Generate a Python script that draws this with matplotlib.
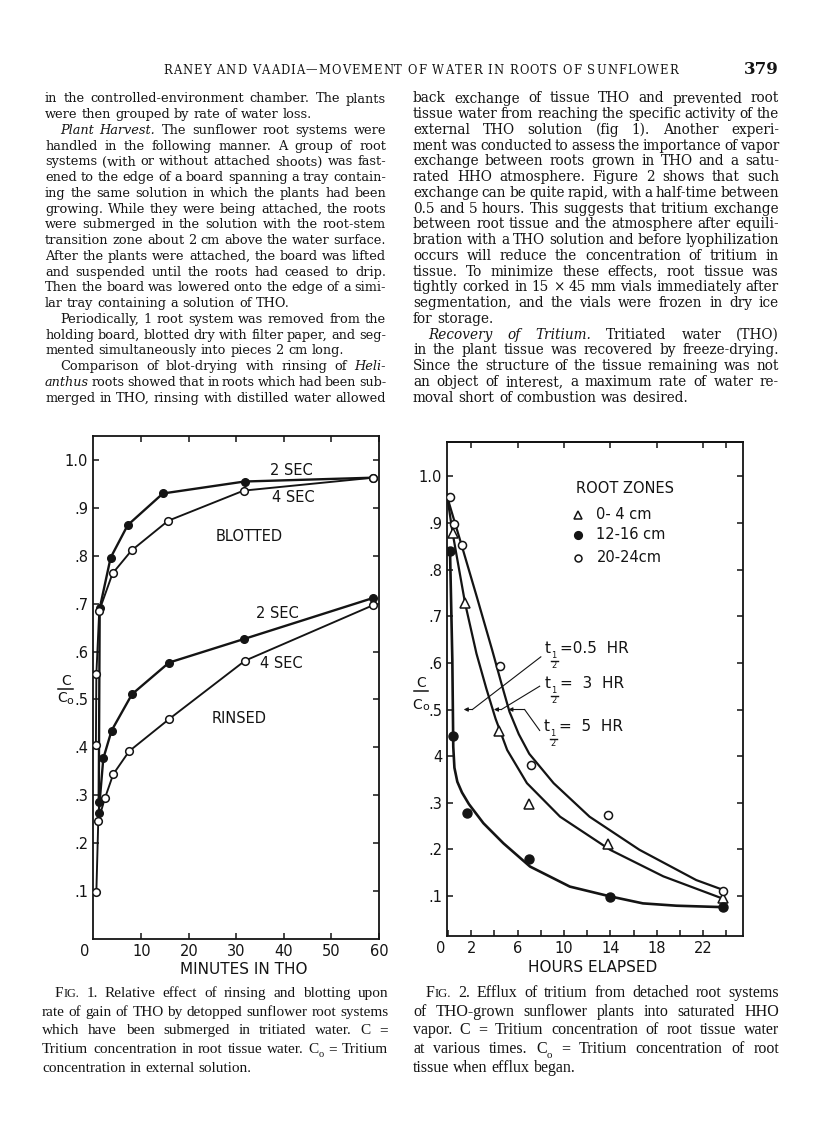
import matplotlib
matplotlib.use('Agg')
import matplotlib.pyplot as plt
from matplotlib.lines import Line2D

W, H = 816, 1121
fig = plt.figure(figsize=(W / 100, H / 100), dpi=100)
fig.patch.set_facecolor('white')
INK = '#141414'
SANS = 'DejaVu Sans'
SERIF = 'DejaVu Serif'
CAPF = 'Liberation Serif'


def fx(x):
    return x / W


def fy(y):
    return 1 - y / H


# ---------------- data: Fig. 1 (minutes in THO vs C/Co) ----------------
blot2_x = [1.0, 1.2, 3.5, 7.1, 14.5, 31.7, 58.8]
blot2_y = [0.287, 0.690, 0.796, 0.864, 0.930, 0.955, 0.963]
blot4_x = [0.4, 0.5, 1.1, 3.9, 7.9, 15.6, 31.5, 58.8]
blot4_y = [0.405, 0.553, 0.685, 0.763, 0.811, 0.873, 0.936, 0.963]
rinse2_x = [1.0, 1.96, 3.7, 8.0, 15.8, 31.5, 58.8]
rinse2_y = [0.264, 0.377, 0.435, 0.511, 0.577, 0.626, 0.712]
rinse4_x = [0.5, 0.9, 2.3, 4.05, 7.4, 15.8, 31.8, 58.8]
rinse4_y = [0.099, 0.247, 0.294, 0.344, 0.392, 0.459, 0.581, 0.697]
fig1_xticks = [10, 20, 30, 40, 50, 60]
fig1_yticks = [0.1, 0.2, 0.3, 0.4, 0.5, 0.6, 0.7, 0.8, 0.9, 1.0]
fig1_ylabels = ['.1', '.2', '.3', '.4', '.5', '.6', '.7', '.8', '.9', '1.0']

# ---------------- data: Fig. 2 (hours elapsed vs C/Co) ----------------
z04_x = [0.4, 1.47, 4.4, 7.0, 13.8, 23.7]
z04_y = [0.878, 0.728, 0.454, 0.297, 0.211, 0.095]
z1216_x = [0.17, 0.46, 1.6, 7.0, 14.0, 23.7]
z1216_y = [0.841, 0.443, 0.277, 0.179, 0.097, 0.077]
z2024_x = [0.15, 0.5, 1.18, 4.5, 7.15, 13.8, 23.7]
z2024_y = [0.955, 0.898, 0.854, 0.594, 0.380, 0.274, 0.111]
# fitted curves
c2024_x = [0.0, 1.2, 2.5, 3.8, 4.6, 5.3, 6.1, 7.0, 9.1, 12.2, 16.5, 21.4, 23.6]
c2024_y = [0.950, 0.850, 0.740, 0.628, 0.556, 0.495, 0.447, 0.405, 0.342, 0.270, 0.199, 0.134, 0.114]
c04_x = [0.0, 0.4, 1.47, 2.45, 3.3, 4.1, 5.1, 6.8, 9.66, 13.97, 18.56, 23.6]
c04_y = [0.945, 0.878, 0.728, 0.620, 0.545, 0.480, 0.413, 0.342, 0.270, 0.199, 0.142, 0.095]
c1216_x = [0.17, 0.37, 0.45, 0.55, 0.8, 1.2, 1.8, 3.05, 4.77, 7.07, 10.5, 13.97, 16.8, 19.7, 23.6]
c1216_y = [0.841, 0.606, 0.420, 0.375, 0.345, 0.322, 0.297, 0.256, 0.213, 0.163, 0.120, 0.099, 0.084, 0.079, 0.076]
fig2_xticks = [0, 2, 6, 10, 14, 18, 22]
fig2_xminor = [4, 8, 12, 16, 20, 24]
fig2_yticks = [0.1, 0.2, 0.3, 0.4, 0.5, 0.6, 0.7, 0.8, 0.9, 1.0]
fig2_ylabels = ['.1', '.2', '.3', '4', '.5', '.6', '.7', '.8', '.9', '1.0']
zone_labels = ['0- 4 cm', '12-16 cm', '20-24cm']

# ---------------- page text ----------------
header = 'RANEY AND VAADIA\u2014MOVEMENT OF WATER IN ROOTS OF SUNFLOWER'
page_no = '379'
left_lines = [
    "in the controlled-environment chamber. The plants",
    "were then grouped by rate of water loss.",
    "*Plant *Harvest. The sunflower root systems were",
    "handled in the following manner. A group of root",
    "systems (with or without attached shoots) was fast-",
    "ened to the edge of a board spanning a tray contain-",
    "ing the same solution in which the plants had been",
    "growing. While they were being attached, the roots",
    "were submerged in the solution with the root-stem",
    "transition zone about 2 cm above the water surface.",
    "After the plants were attached, the board was lifted",
    "and suspended until the roots had ceased to drip.",
    "Then the board was lowered onto the edge of a simi-",
    "lar tray containing a solution of THO.",
    "Periodically, 1 root system was removed from the",
    "holding board, blotted dry with filter paper, and seg-",
    "mented simultaneously into pieces 2 cm long.",
    "Comparison of blot-drying with rinsing of *Heli-",
    "*anthus roots showed that in roots which had been sub-",
    "merged in THO, rinsing with distilled water allowed",
]
right_lines = [
    "back exchange of tissue THO and prevented root",
    "tissue water from reaching the specific activity of the",
    "external THO solution (fig 1). Another experi-",
    "ment was conducted to assess the importance of vapor",
    "exchange between roots grown in THO and a satu-",
    "rated HHO atmosphere. Figure 2 shows that such",
    "exchange can be quite rapid, with a half-time between",
    "0.5 and 5 hours. This suggests that tritium exchange",
    "between root tissue and the atmosphere after equili-",
    "bration with a THO solution and before lyophilization",
    "occurs will reduce the concentration of tritium in",
    "tissue. To minimize these effects, root tissue was",
    "tightly corked in 15 \u00d7 45 mm vials immediately after",
    "segmentation, and the vials were frozen in dry ice",
    "for storage.",
    "*Recovery *of *Tritium. Tritiated water (THO)",
    "in the plant tissue was recovered by freeze-drying.",
    "Since the structure of the tissue remaining was not",
    "an object of interest, a maximum rate of water re-",
    "moval short of combustion was desired.",
]
cap1_lines = [
    "FIG. 1. Relative effect of rinsing and blotting upon",
    "rate of gain of THO by detopped sunflower root systems",
    "which have been submerged in tritiated water. C =",
    "Tritium concentration in root tissue water. C_o = Tritium",
    "concentration in external solution.",
]
cap2_lines = [
    "FIG. 2. Efflux of tritium from detached root systems",
    "of THO-grown sunflower plants into saturated HHO",
    "vapor. C = Tritium concentration of root tissue water",
    "at various times. C_o = Tritium concentration of root",
    "tissue when efflux began.",
]

renderer = fig.canvas.get_renderer()
_wcache = {}


def text_width(s, size, family, style='normal', weight='normal'):
    key = (s, round(size, 3), family, style, weight)
    if key not in _wcache:
        t = fig.text(0, 0, s, fontsize=size, family=family, style=style, weight=weight)
        _wcache[key] = t.get_window_extent(renderer).width
        t.remove()
    return _wcache[key]


def segments(tok):
    if tok == 'FIG.':
        return [('F', 1.0, 0.0, 'normal'), ('IG.', 0.8, 0.0, 'normal')]
    if tok == 'C_o':
        return [('C', 1.0, 0.0, 'normal'), ('o', 0.68, -0.28, 'normal')]
    if tok.startswith('*'):
        return [(tok[1:], 1.0, 0.0, 'italic')]
    return [(tok, 1.0, 0.0, 'normal')]


def tok_width(tok, size, family):
    return sum(text_width(s, size * sc, family, st) for s, sc, dy, st in segments(tok))


def draw_tok(tok, x, base, size, family):
    for s, sc, dy, st in segments(tok):
        fig.text(fx(x), fy(base - dy * size * 100 / 72), s, fontsize=size * sc,
                 family=family, style=st, va='baseline', ha='left', color=INK)
        x += text_width(s, size * sc, family, st)


def space_w(size, family):
    return text_width('a a', size, family) - text_width('aa', size, family)


def fit_size(lines, x0, x1, family, indents, ends, indent_px, s0=10.0, q=0.3):
    sp = space_w(s0, family)
    ks = []
    for i, line in enumerate(lines):
        if i in ends:
            continue
        toks = line.split(' ')
        avail = (x1 - x0) - (indent_px if i in indents else 0)
        nat = sum(tok_width(t, s0, family) for t in toks) + (len(toks) - 1) * sp
        ks.append(avail / nat)
    ks.sort()
    return s0 * ks[int(q * (len(ks) - 1))]


def justify(lines, x0, x1, base0, dy, size, family, indents, ends, indent_px, min_gap=2.4):
    for i, line in enumerate(lines):
        toks = line.split(' ')
        xs = x0 + (indent_px if i in indents else 0)
        s = size
        while True:
            sp = space_w(s, family)
            widths = [tok_width(t, s, family) for t in toks]
            if i in ends or len(toks) == 1:
                gap = sp
                break
            gap = ((x1 - xs) - sum(widths)) / (len(toks) - 1)
            if gap >= min_gap:
                break
            s *= 0.99
        base = base0 + i * dy
        x = xs
        for t, w in zip(toks, widths):
            draw_tok(t, x, base, s, family)
            x += w + gap


def tracked(text, x0, x1, base, size, family, weight='normal'):
    ws = [text_width(c, size, family, weight=weight) for c in text]
    extra = ((x1 - x0) - sum(ws)) / (len(text) - 1)
    x = x0
    for c, w in zip(text, ws):
        fig.text(fx(x), fy(base), c, fontsize=size, family=family, weight=weight,
                 va='baseline', ha='left', color=INK)
        x += w + extra


# header
tracked(header, 163, 678, 73.5, 8.3, SERIF)
fig.text(fx(779), fy(74), page_no, fontsize=12, family=SERIF, weight='bold',
         ha='right', va='baseline', color=INK)

# body columns (each column fitted on its own: the scan is not uniform in width)
LX0, LX1, RX0, RX1 = 45, 386, 413, 779
left_ind, left_end = {2, 14, 17}, {1, 13, 16}
right_ind, right_end = {15}, {14, 19}
bsL = min(fit_size(left_lines, LX0, LX1, SERIF, left_ind, left_end, 15), 10.0)
bsR = min(fit_size(right_lines, RX0, RX1, SERIF, right_ind, right_end, 15), 10.0)
justify(left_lines, LX0, LX1, 102.5, 15.74, bsL, SERIF, left_ind, left_end, 15)
justify(right_lines, RX0, RX1, 102.5, 15.74, bsR, SERIF, right_ind, right_end, 15)

# captions
csL = min(fit_size(cap1_lines, 42, 388, CAPF, {0}, {4}, 13), 11.5)
csR = min(fit_size(cap2_lines, 413, 779, CAPF, {0}, {4}, 13), 11.5)
justify(cap1_lines, 42, 388, 997, 18.7, csL, CAPF, {0}, {4}, 13)
justify(cap2_lines, 413, 779, 997, 18.7, csR, CAPF, {0}, {4}, 13)


def style_axes(ax):
    for s in ax.spines.values():
        s.set_linewidth(1.3)
        s.set_color(INK)
    ax.tick_params(axis='both', which='both', direction='in', length=4.5, width=1.1,
                   colors=INK, labelsize=10.5, pad=3.5)
    ax.tick_params(axis='both', which='minor', length=3.5)
    for lab in ax.get_xticklabels() + ax.get_yticklabels():
        lab.set_family(SANS)


# ---------------- Fig. 1 ----------------
ax1 = fig.add_axes([fx(93), fy(939), (379 - 93) / W, (939 - 436) / H])
ax1.set_xlim(-0.21, 59.8)
ax1.set_ylim(0, 1.05)
LW = 1.7
ax1.plot(blot2_x, blot2_y, '-o', color=INK, lw=LW, ms=5.5, mfc=INK, mec=INK, zorder=3)
ax1.plot(blot4_x, blot4_y, '-o', color=INK, lw=LW * 0.8, ms=5.5, mfc='white', mec=INK, mew=1.1, zorder=4)
ax1.plot(rinse2_x, rinse2_y, '-o', color=INK, lw=LW, ms=5.5, mfc=INK, mec=INK, zorder=3)
ax1.plot(rinse4_x, rinse4_y, '-o', color=INK, lw=LW * 0.8, ms=5.5, mfc='white', mec=INK, mew=1.1, zorder=4)
ax1.set_xticks(fig1_xticks)
ax1.set_xticklabels([str(v) for v in fig1_xticks])
ax1.set_yticks(fig1_yticks)
ax1.set_yticklabels(fig1_ylabels)
ax1.tick_params(top=True, right=True)
style_axes(ax1)
ax1.annotate('0', xy=(0, 0), xycoords='data', xytext=(-6.5, -3.5), textcoords='offset points',
             ha='center', va='top', fontsize=10.5, family=SANS, color=INK, annotation_clip=False)
for txt, x, y in [('2 SEC', 41.5, 0.979), ('4 SEC', 41.9, 0.921), ('BLOTTED', 32.6, 0.840),
                  ('2 SEC', 38.6, 0.680), ('4 SEC', 39.5, 0.576), ('RINSED', 30.5, 0.461)]:
    ax1.text(x, y, txt, ha='center', va='center', fontsize=10.5, family=SANS, color=INK)
fig.text(fx(244), fy(970), 'MINUTES IN THO', ha='center', va='center', fontsize=11,
         family=SANS, color=INK)
# C / Co label
fig.text(fx(66), fy(681), 'C', ha='center', va='center', fontsize=10, family=SANS, color=INK)
fig.add_artist(Line2D([fx(58.5), fx(73)], [fy(689)] * 2, color=INK, lw=1.1))
fig.text(fx(62.5), fy(698), 'C', ha='center', va='center', fontsize=10, family=SANS, color=INK)
fig.text(fx(70), fy(700.5), 'o', ha='center', va='center', fontsize=8, family=SANS, color=INK)

# ---------------- Fig. 2 ----------------
ax2 = fig.add_axes([fx(447), fy(936), (743 - 447) / W, (936 - 442) / H])
ax2.set_xlim(-0.09, 25.43)
ax2.set_ylim(0.014, 1.074)
ax2.plot(c2024_x, c2024_y, '-', color=INK, lw=1.6)
ax2.plot(c04_x, c04_y, '-', color=INK, lw=1.6)
ax2.plot(c1216_x, c1216_y, '-', color=INK, lw=1.9)
ax2.plot(z04_x, z04_y, '^', ls='none', ms=6.5, mfc='white', mec=INK, mew=1.1, zorder=4)
ax2.plot(z1216_x, z1216_y, 'o', ls='none', ms=6.5, mfc=INK, mec=INK, zorder=4)
ax2.plot(z2024_x, z2024_y, 'o', ls='none', ms=5.8, mfc='white', mec=INK, mew=1.1, zorder=4)
ax2.set_xticks(fig2_xticks)
ax2.set_xticklabels([''] + [str(v) for v in fig2_xticks[1:]])
ax2.set_xticks(fig2_xminor, minor=True)
ax2.set_yticks(fig2_yticks)
ax2.set_yticklabels(fig2_ylabels)
ax2.tick_params(right=True, which='both')
style_axes(ax2)
ax2.tick_params(axis='x', which='minor', length=4.5)
sec = ax2.secondary_xaxis('top')
sec.set_xticks([2, 6, 10, 14, 18, 22, 24])
sec.tick_params(direction='in', length=4.5, width=1.1, labeltop=False, colors=INK)
sec.spines['top'].set_linewidth(1.3)
ax2.annotate('0', xy=(0, 0.014), xycoords='data', xytext=(-5.0, -3.5), textcoords='offset points',
             ha='center', va='top', fontsize=10.5, family=SANS, color=INK, annotation_clip=False)
fig.text(fx(593), fy(967), 'HOURS ELAPSED', ha='center', va='center', fontsize=11,
         family=SANS, color=INK)
fig.text(fx(421), fy(683), 'C', ha='center', va='center', fontsize=10, family=SANS, color=INK)
fig.add_artist(Line2D([fx(413.5), fx(428)], [fy(690.5)] * 2, color=INK, lw=1.1))
fig.text(fx(417.5), fy(705), 'C', ha='center', va='center', fontsize=10, family=SANS, color=INK)
fig.text(fx(425.5), fy(707.5), 'o', ha='center', va='center', fontsize=8, family=SANS, color=INK)

# legend
ax2.text(0.60, 0.905, 'ROOT ZONES', transform=ax2.transAxes, ha='center', va='center',
         fontsize=10.5, family=SANS, color=INK)
leg_y = [0.853, 0.812, 0.766]
leg_mk = [dict(marker='^', mfc='white', ms=5.5), dict(marker='o', mfc=INK, ms=5.5),
          dict(marker='o', mfc='white', ms=5)]
for yy, mk, lab in zip(leg_y, leg_mk, zone_labels):
    ax2.plot([0.442], [yy], transform=ax2.transAxes, ls='none', mec=INK, mew=1.1, clip_on=False, **mk)
    ax2.text(0.505, yy, lab, transform=ax2.transAxes, ha='left', va='center',
             fontsize=10.5, family=SANS, color=INK)


def half_label(x, base, rest):
    fig.text(fx(x), fy(base), 't', fontsize=11, family=SANS, va='baseline', ha='left', color=INK)
    fig.text(fx(x + 9), fy(base + 2.5), '1', fontsize=6, family=SANS, va='center', ha='center', color=INK)
    fig.add_artist(Line2D([fx(x + 5.5), fx(x + 12.5)], [fy(base + 7.5)] * 2, color=INK, lw=1.0))
    fig.text(fx(x + 9), fy(base + 12.5), '2', fontsize=6, family=SANS, va='center', ha='center', color=INK)
    fig.text(fx(x + 15), fy(base), rest, fontsize=11, family=SANS, va='baseline', ha='left', color=INK)


half_label(545, 653, '=0.5  HR')
half_label(545, 688, '=  3  HR')
half_label(544, 731, '=  5  HR')

for (lx, ly), (cx, cy), hx in [((8.0, 0.613), (2.1, 0.5), 1.35),
                               ((7.9, 0.550), (4.6, 0.5), 3.95),
                               ((7.9, 0.455), (6.6, 0.5), 5.2)]:
    ax2.plot([lx, cx], [ly, cy], '-', color=INK, lw=0.8)
    ax2.annotate('', xy=(hx, 0.5), xytext=(cx, cy),
                 arrowprops=dict(arrowstyle='-|>', lw=0.8, color=INK, mutation_scale=6,
                                 shrinkA=0, shrinkB=0))

fig.savefig('out.png', dpi=100, facecolor='white')
